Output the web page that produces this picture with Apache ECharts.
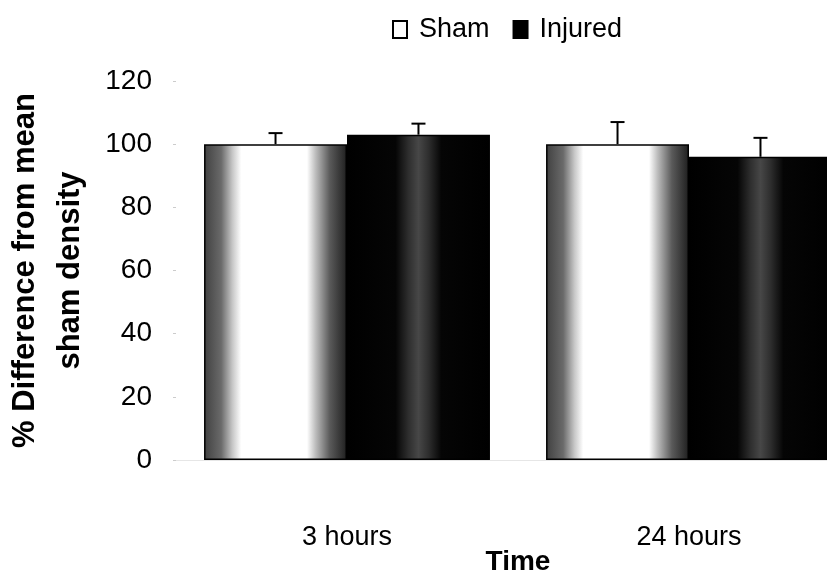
<!DOCTYPE html>
<html><head><meta charset="utf-8">
<script src="https://cdn.jsdelivr.net/npm/echarts@6/dist/echarts.min.js"></script>
<style>html,body{margin:0;padding:0;background:#fff;overflow:hidden;width:827px;height:581px}#c{width:900px;height:581px}</style>
</head><body><div id="c"></div>
<script>
const categories = ['3 hours', '24 hours'];
const shamValues = [100, 100];
const injuredValues = [103, 96];
const shamErrors = [3.5, 7];
const injuredErrors = [3.5, 6];
const yTicks = [0, 20, 40, 60, 80, 100, 120];

const chart = echarts.init(document.getElementById('c'));
const FONT = 'Liberation Sans, Arial, sans-serif';

const shamGrad = new echarts.graphic.LinearGradient(0, 0, 1, 0, [
  {offset: 0, color: '#404040'},
  {offset: 0.12, color: '#6a6a6a'},
  {offset: 0.2, color: '#c8c8c8'},
  {offset: 0.26, color: '#ffffff'},
  {offset: 0.72, color: '#ffffff'},
  {offset: 0.78, color: '#bdbdbd'},
  {offset: 0.88, color: '#5a5a5a'},
  {offset: 1, color: '#1e1e1e'}
]);
const injGrad = new echarts.graphic.LinearGradient(0, 0, 1, 0, [
  {offset: 0, color: '#000'},
  {offset: 0.34, color: '#050505'},
  {offset: 0.43, color: '#2e2e2e'},
  {offset: 0.5, color: '#474747'},
  {offset: 0.57, color: '#2e2e2e'},
  {offset: 0.66, color: '#050505'},
  {offset: 1, color: '#000'}
]);

function errSeries(name, vals, errs, idx) {
  return {
    type: 'custom', name: name + ' err', silent: true, z: 5,
    data: vals.map((v, i) => [i, v, v + errs[i]]),
    renderItem: function (params, api) {
      const i = api.value(0);
      const base = api.coord([i, api.value(1)]);
      const top = api.coord([i, api.value(2)]);
      const bw = api.size([1, 0])[0];
      const barW = bw * 0.418;
      const x = base[0] + (idx === 0 ? -barW / 2 : barW / 2);
      const st = {stroke: '#000', lineWidth: 2};
      return {type: 'group', children: [
        {type: 'line', shape: {x1: x, y1: base[1], x2: x, y2: top[1]}, style: st},
        {type: 'line', shape: {x1: x - 7, y1: top[1], x2: x + 7, y2: top[1]}, style: st}
      ]};
    }
  };
}

chart.setOption({
  backgroundColor: '#fff',
  animation: false,
  legend: {
    top: 11, left: 387,
    itemGap: 23, itemWidth: 14, itemHeight: 17,
    textStyle: {fontFamily: FONT, fontSize: 27, color: '#000', padding: [0, 0, 0, 7]},
    data: [
      {name: 'Sham', icon: 'rect', itemStyle: {color: '#fff', borderColor: '#000', borderWidth: 2}},
      {name: 'Injured', icon: 'rect', itemStyle: {color: '#000', borderColor: '#000', borderWidth: 2}}
    ]
  },
  grid: {left: 176, right: 40, top: 81, bottom: 121, containLabel: false, outerBoundsMode: 'none'},
  xAxis: {
    type: 'category', data: categories,
    axisLine: {show: true, lineStyle: {color: '#e6e6e6', width: 1}},
    axisTick: {show: false},
    axisLabel: {fontFamily: FONT, fontSize: 27, color: '#000', margin: 64},
    name: 'Time', nameLocation: 'middle', nameGap: 88, nameMoveOverlap: false,
    nameTextStyle: {fontFamily: FONT, fontSize: 28, fontWeight: 'bold', color: '#000'}
  },
  yAxis: {
    type: 'value', min: 0, max: 120, interval: 20,
    axisLine: {show: false},
    axisTick: {show: true, length: 3, lineStyle: {color: '#ccc'}},
    splitLine: {show: false},
    axisLabel: {fontFamily: FONT, fontSize: 28, color: '#000', margin: 24,
      formatter: v => yTicks.includes(v) ? String(v) : ''},
    name: '% Difference from mean\nsham density', nameLocation: 'middle', nameGap: 83,
    nameMoveOverlap: false, nameRotate: 90,
    nameTextStyle: {fontFamily: FONT, fontSize: 31, fontWeight: 'bold', color: '#000', lineHeight: 45}
  },
  series: [
    {name: 'Sham', type: 'bar', data: shamValues, barWidth: '41.8%', barGap: '0%',
      itemStyle: {color: shamGrad, borderColor: '#000', borderWidth: 1.5}},
    {name: 'Injured', type: 'bar', data: injuredValues, barWidth: '41.8%', barGap: '0%',
      itemStyle: {color: injGrad, borderColor: '#000', borderWidth: 1.5}},
    errSeries('Sham', shamValues, shamErrors, 0),
    errSeries('Injured', injuredValues, injuredErrors, 1)
  ]
});
</script></body></html>
